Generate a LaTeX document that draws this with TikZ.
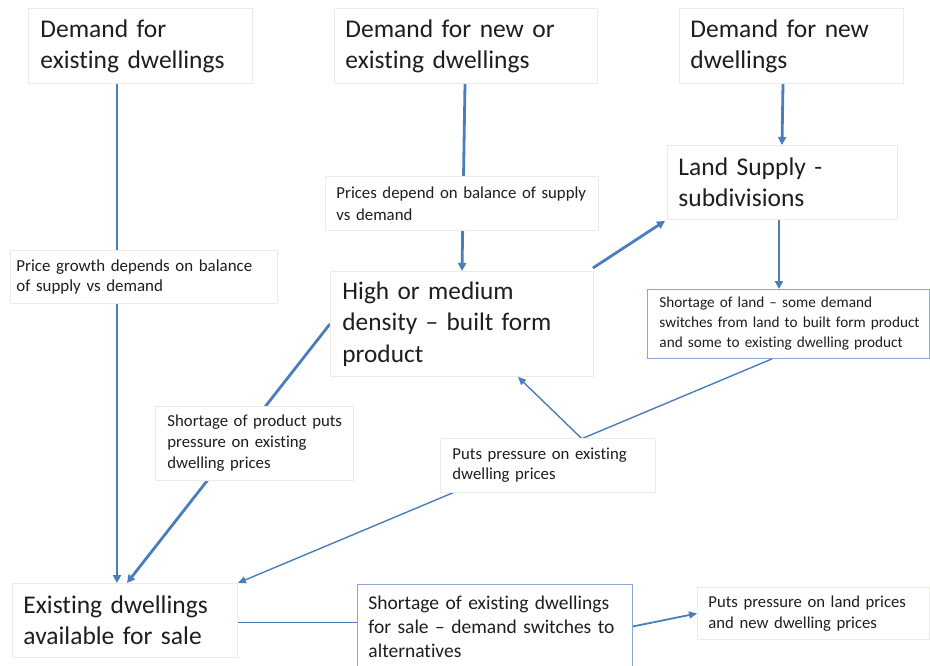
\documentclass[tikz,border=0pt]{standalone}
\usepackage{fontspec}
\setmainfont{Carlito}[Ligatures={NoCommon}]
\usetikzlibrary{arrows.meta,backgrounds,calc}
\definecolor{arrowblue}{HTML}{4A7EBB}
\definecolor{boxgray}{HTML}{ECECE4}
\definecolor{boxblue}{HTML}{8AA8D6}
\definecolor{txt}{HTML}{1E1E1E}
\tikzset{
  box/.style={draw=boxgray, fill=white, line width=0.9pt, anchor=north west, align=left, inner ysep=0pt, text=txt},
  bluebox/.style={box, draw=boxblue},
  thick arrow/.style={draw=arrowblue, line width=2.8pt, -{Triangle[length=8pt,width=8pt]}},
  thin arrow/.style={draw=arrowblue, line width=1.4pt, -{Triangle[length=8pt,width=7pt]}},
  plain line/.style={draw=arrowblue, line width=1.8pt},
  big/.style={font=\fontsize{25.5}{31}\selectfont},
  bigger/.style={font=\fontsize{25.3}{31.5}\selectfont},
}
\begin{document}
\begin{tikzpicture}[x=1pt,y=-1pt]
\useasboundingbox (0,0) rectangle (930,666);
% top boxes
\node[box, big, minimum width=224pt, minimum height=75pt, text width=200pt, inner xsep=12pt] (b1) at (28,8)
  {\mbox{Demand for}\\\mbox{existing dwellings}};
\node[box, big, minimum width=263pt, minimum height=75pt, text width=241pt, inner xsep=11pt] (b2) at (334,8)
  {\mbox{Demand for new or}\\\mbox{existing dwellings}};
\node[box, big, minimum width=224pt, minimum height=75pt, text width=202pt, inner xsep=11pt] (b3) at (679,8)
  {\mbox{Demand for new}\\\mbox{dwellings}};
% land supply
\node[box, big, minimum width=230pt, minimum height=74pt, text width=208pt, inner xsep=11pt] (b4) at (667,145)
  {\mbox{Land Supply -}\\\mbox{subdivisions}};
% prices depend
\node[box, font=\fontsize{16.8}{22}\selectfont, minimum width=273pt, minimum height=54pt, text width=251pt, inner xsep=11pt] (b5) at (325,176)
  {\mbox{Prices depend on balance of supply}\\\mbox{vs demand}};
% price growth
\node[box, font=\fontsize{16.9}{20.5}\selectfont, minimum width=267pt, minimum height=53pt, text width=255pt, inner xsep=6pt] (b6) at (10,250)
  {\mbox{Price growth depends on balance}\\\mbox{of supply vs demand}};
% high or medium density
\node[box, bigger, minimum width=263pt, minimum height=105pt, text width=239pt, inner xsep=12pt] (b7) at (330,271)
  {\mbox{High or medium}\\\mbox{density -- built form}\\\mbox{product}};
% shortage of land
\node[bluebox, font=\fontsize{15.25}{20}\selectfont, minimum width=282pt, minimum height=69pt, text width=258pt, inner xsep=12pt] (b8) at (647,289)
  {\mbox{Shortage of land -- some demand}\\\mbox{switches from land to built form product}\\\mbox{and some to existing dwelling product}};
% shortage of product
\node[box, font=\fontsize{16.75}{21}\selectfont, minimum width=198pt, minimum height=74pt, text width=174pt, inner xsep=12pt] (b9) at (155,406)
  {\mbox{Shortage of product puts}\\\mbox{pressure on existing}\\\mbox{dwelling prices}};
% puts pressure on existing
\node[box, font=\fontsize{16.75}{20}\selectfont, minimum width=215pt, minimum height=54pt, text width=191pt, inner xsep=12pt] (b10) at (440,438)
  {\mbox{Puts pressure on existing}\\\mbox{dwelling prices}};
% existing dwellings available
\node[box, big, minimum width=225pt, minimum height=74pt, text width=203pt, inner xsep=11pt] (b11) at (12,583)
  {\mbox{Existing dwellings}\\\mbox{available for sale}};
% shortage of existing dwellings
\node[bluebox, font=\fontsize{19.5}{24}\selectfont, minimum width=275pt, minimum height=84pt, text width=253pt, inner xsep=11pt] (b12) at (357,584)
  {\mbox{Shortage of existing dwellings}\\\mbox{for sale -- demand switches to}\\\mbox{alternatives}};
% puts pressure on land prices
\node[box, font=\fontsize{16.7}{21}\selectfont, minimum width=232pt, minimum height=52pt, text width=210pt, inner xsep=11pt] (b13) at (697,587)
  {\mbox{Puts pressure on land prices}\\\mbox{and new dwelling prices}};

\begin{pgfonlayer}{background}
  \draw[thick arrow] ([xshift=89pt]b1.south west) -- ([xshift=105pt]b11.north west);
  \draw[thick arrow] ([xshift=131pt]b2.south west) -- ([xshift=132pt]b7.north west);
  \draw[thick arrow] ([xshift=104pt]b3.south west) -- ([xshift=115pt]b4.north west);
  \draw[thick arrow] ([xshift=112pt]b4.south west) -- ([xshift=132pt]b8.north west);
  \draw[thick arrow] ([shift={(-1pt,3pt)}]b7.north east) -- ([shift={(-2pt,-1pt)}]b4.south west);
  \draw[thick arrow] (b7.west) -- ([xshift=115pt]b11.north west);
  \draw[thin arrow] ([xshift=125pt]b8.south west) -- coordinate[pos=0.356] (j) (b11.north east);
  \draw[thin arrow] (j) -- ([xshift=188pt]b7.south west);
  \draw[plain line] ([yshift=-2pt]b11.east) -- ([yshift=-2pt]b11.east -| b12.west);
  \draw[plain line, -{Triangle[length=8pt,width=7pt]}] (b12.east) -- (b13.west);
\end{pgfonlayer}
\end{tikzpicture}
\end{document}
